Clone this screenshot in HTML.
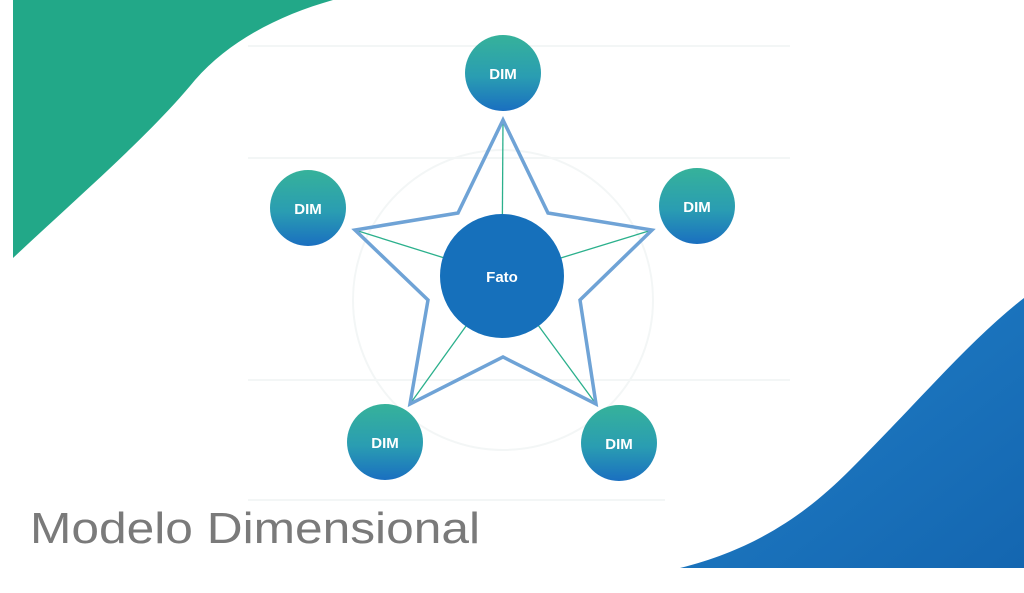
<!DOCTYPE html>
<html><head><style>
body{margin:0;width:1024px;height:588px;background:#fff;overflow:hidden;font-family:"Liberation Sans",sans-serif}
</style></head><body>
<svg width="1024" height="588" viewBox="0 0 1024 588" xmlns="http://www.w3.org/2000/svg">
<defs>
<linearGradient id="g" x1="0" y1="0" x2="0" y2="1"><stop offset="0" stop-color="#36b29a"/><stop offset="0.55" stop-color="#2a9db2"/><stop offset="1" stop-color="#1a6fc0"/></linearGradient>
<linearGradient id="gb" x1="0" y1="0" x2="1" y2="1"><stop offset="0" stop-color="#2180c8"/><stop offset="1" stop-color="#1466b0"/></linearGradient>
</defs>
<path d="M13,0 L333,0 C280,15 230,40 195,80 C150,135 80,195 13,258 Z" fill="#22a888"/>
<path d="M680,568 C760,548 810,510 850,470 C920,400 970,340 1024,298 L1024,568 Z" fill="url(#gb)"/>
<g stroke="#f3f6f6" stroke-width="2" fill="none">
<line x1="248" y1="46" x2="790" y2="46"/><line x1="248" y1="158" x2="790" y2="158"/><line x1="248" y1="380" x2="790" y2="380"/><line x1="248" y1="500" x2="665" y2="500"/>
<circle cx="503" cy="300" r="150"/>
</g>
<g stroke="#2bb08c" stroke-width="1.3">
<line x1="502" y1="276" x2="503" y2="120"/><line x1="502" y1="276" x2="652" y2="230"/><line x1="502" y1="276" x2="596" y2="404"/><line x1="502" y1="276" x2="410" y2="404"/><line x1="502" y1="276" x2="355" y2="230"/>
</g>
<polygon points="503,120 548,213 652,230 580,300 596,404 503,357 410,404 428,300 355,230 458,213" fill="none" stroke="#6fa3d6" stroke-width="3.5" stroke-linejoin="miter"/>
<circle cx="502" cy="276" r="62" fill="#1670bb"/>
<text x="502" y="282" font-size="15" font-weight="bold" fill="#fff" text-anchor="middle">Fato</text>
<g font-size="15" font-weight="bold" fill="#fff" text-anchor="middle">
<circle cx="503" cy="73" r="38" fill="url(#g)"/><text x="503" y="79">DIM</text>
<circle cx="697" cy="206" r="38" fill="url(#g)"/><text x="697" y="212">DIM</text>
<circle cx="308" cy="208" r="38" fill="url(#g)"/><text x="308" y="214">DIM</text>
<circle cx="385" cy="442" r="38" fill="url(#g)"/><text x="385" y="448">DIM</text>
<circle cx="619" cy="443" r="38" fill="url(#g)"/><text x="619" y="449">DIM</text>
</g>
<text x="30" y="543" font-size="44" fill="#7a7a7a" textLength="450" lengthAdjust="spacingAndGlyphs">Modelo Dimensional</text>
</svg>
</body></html>
